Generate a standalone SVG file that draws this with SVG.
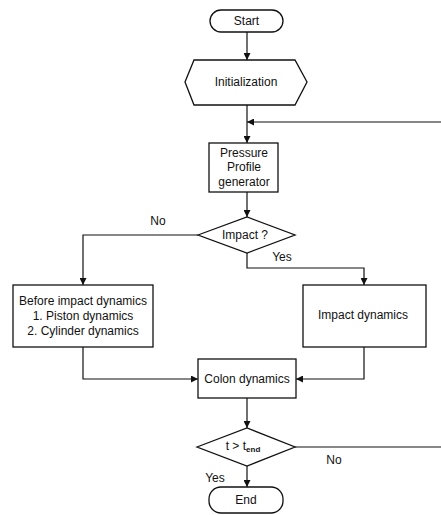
<svg xmlns="http://www.w3.org/2000/svg" width="441" height="515" viewBox="0 0 441 515">
<style>
.s{fill:#fff;stroke:#111;stroke-width:1.3}
.c{fill:none;stroke:#111;stroke-width:1.2}
text{font-family:"Liberation Sans",Arial,sans-serif;font-size:12px;fill:#111;text-anchor:middle;dominant-baseline:central}
.l{text-anchor:start}
</style>
<defs>
<marker id="a" viewBox="0 0 10 10" refX="10" refY="5" markerWidth="7" markerHeight="7" markerUnits="userSpaceOnUse" orient="auto">
<path d="M0,0L10,5L0,10z" fill="#111"/>
</marker>
</defs>
<g id="connectors">
<path class="c" d="M247,32V60" marker-end="url(#a)"/>
<path class="c" d="M247,105V143" marker-end="url(#a)"/>
<path class="c" d="M441,122H247" marker-end="url(#a)"/>
<path class="c" d="M247,192V217" marker-end="url(#a)"/>
<path class="c" d="M198,235H83V285" marker-end="url(#a)"/>
<path class="c" d="M247,253V268H364V285" marker-end="url(#a)"/>
<path class="c" d="M83,347V379H198" marker-end="url(#a)"/>
<path class="c" d="M364,347V379H296" marker-end="url(#a)"/>
<path class="c" d="M247,398V428" marker-end="url(#a)"/>
<path class="c" d="M295,447H441"/>
<path class="c" d="M247,466V487" marker-end="url(#a)"/>
<text x="158" y="221">No</text>
<text x="282" y="257">Yes</text>
<text x="334" y="460">No</text>
<text x="215" y="478">Yes</text>
</g>
<g id="start">
<rect class="s" x="210" y="10" width="73" height="22" rx="11"/>
<text x="246.5" y="21">Start</text>
</g>
<g id="init">
<polygon class="s" points="185,82 194,60 295,60 307,82 295,105 194,105"/>
<text x="246" y="82">Initialization</text>
</g>
<g id="pressure">
<rect class="s" x="209" y="143" width="69" height="49"/>
<text x="244" y="153">Pressure</text>
<text x="244" y="167">Profile</text>
<text x="244" y="182">generator</text>
</g>
<g id="impact-q">
<polygon class="s" points="198,235 247,217 295,235 247,253"/>
<text x="245" y="235">Impact ?</text>
</g>
<g id="before">
<rect class="s" x="13" y="285" width="140" height="62"/>
<text x="83" y="301">Before impact dynamics</text>
<text x="83" y="316">1. Piston dynamics</text>
<text x="83" y="331">2. Cylinder dynamics</text>
</g>
<g id="impact">
<rect class="s" x="303" y="285" width="123" height="62"/>
<text x="363" y="315">Impact dynamics</text>
</g>
<g id="colon">
<rect class="s" x="198" y="359" width="98" height="39"/>
<text x="247" y="379">Colon dynamics</text>
</g>
<g id="t-q">
<polygon class="s" points="197,447 247,428 295,447 247,466"/>
<text x="243" y="446">t &gt; t<tspan font-size="8" font-weight="bold" dy="3">end</tspan></text>
</g>
<g id="end">
<rect class="s" x="209" y="487" width="74" height="26" rx="12"/>
<text x="246" y="500">End</text>
</g>
</svg>
